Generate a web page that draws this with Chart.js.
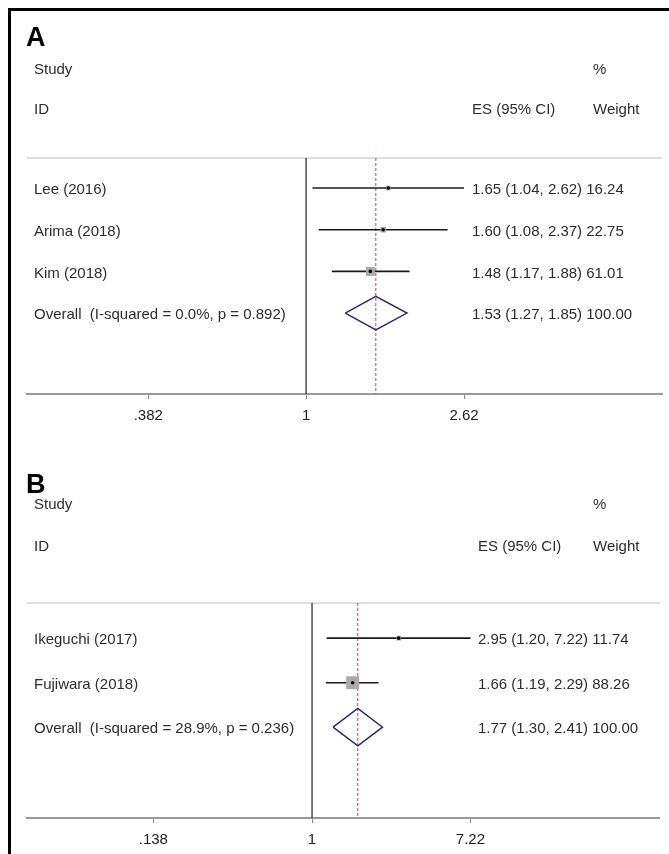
<!DOCTYPE html>
<html>
<head>
<meta charset="utf-8">
<title>Forest plots</title>
<script src="https://cdn.jsdelivr.net/npm/chart.js@4/dist/chart.umd.min.js"></script>
<style>
  body { margin: 0; background: #fff; }
  #page { position: relative; width: 669px; height: 854px; overflow: hidden; }
  #frame { position: absolute; left: 8px; top: 8px; right: -10px; bottom: -10px;
           border-left: 3px solid #000; border-top: 3px solid #000; }
  canvas { position: absolute; left: 0; }
</style>
</head>
<body>
<div id="page">
  <div id="frame"></div>
  <canvas id="plotA" width="669" height="440" style="top:0"></canvas>
  <canvas id="plotB" width="669" height="414" style="top:440px"></canvas>
</div>
<script>
// ---- panel A data ----
const studiesA = ['Lee (2016)', 'Arima (2018)', 'Kim (2018)'];
const esA = [1.65, 1.60, 1.48];
const lowA = [1.04, 1.08, 1.17];
const highA = [2.62, 2.37, 1.88];
const weightA = [16.24, 22.75, 61.01];
const overallA = [1.53, 1.27, 1.85]; // ES, low, high
const overallLabelA = 'Overall  (I-squared = 0.0%, p = 0.892)';
const ticksA = [0.382, 1, 2.62];
const tickLabelsA = ['.382', '1', '2.62'];

// ---- panel B data ----
const studiesB = ['Ikeguchi (2017)', 'Fujiwara (2018)'];
const esB = [2.95, 1.66];
const lowB = [1.20, 1.19];
const highB = [7.22, 2.29];
const weightB = [11.74, 88.26];
const overallB = [1.77, 1.30, 2.41];
const overallLabelB = 'Overall  (I-squared = 28.9%, p = 0.236)';
const ticksB = [0.138, 1, 7.22];
const tickLabelsB = ['.138', '1', '7.22'];

const FONT = '"Liberation Sans", Arial, sans-serif';
const TEXT = '#2e2e2e';
const DY = 2; // nudge text down to sit on the row

function fmt(es, lo, hi) {
  return es.toFixed(2) + ' (' + lo.toFixed(2) + ', ' + hi.toFixed(2) + ')';
}

function makeForest(id, p) {
  const n = p.studies.length;
  const rows = p.studies.map((s, i) => i + 1);
  const overallRow = n + 1;

  const datasets = [];
  // line of no effect
  datasets.push({ data: [{ x: 1, y: p.yMin }, { x: 1, y: p.yMax }], showLine: true,
    borderColor: '#222', borderWidth: 1.2, pointRadius: 0, order: 5 });
  // overall effect, dashed
  datasets.push({ data: [{ x: p.overall[0], y: p.yMin }, { x: p.overall[0], y: p.yMax }], showLine: true,
    borderColor: '#c8445a', borderWidth: 1, borderDash: [3, 2], pointRadius: 0, order: 5 });
  // confidence intervals
  rows.forEach((r, i) => {
    datasets.push({ data: [{ x: p.low[i], y: r }, { x: p.high[i], y: r }], showLine: true,
      borderColor: '#1a1a1a', borderWidth: 1.6, pointRadius: 0, order: 3 });
  });
  // weight boxes
  datasets.push({ data: rows.map((r, i) => ({ x: p.es[i], y: r })),
    pointStyle: 'rect', backgroundColor: '#aaaaaa', borderWidth: 0,
    pointRadius: ctx => p.boxK * Math.sqrt(p.weight[ctx.dataIndex]) / Math.SQRT2, order: 2 });
  // point estimates
  datasets.push({ data: rows.map((r, i) => ({ x: p.es[i], y: r })),
    backgroundColor: '#000', borderWidth: 0, pointRadius: 1.8, order: 1 });
  // overall diamond
  const o = p.overall;
  datasets.push({ data: [
      { x: o[1], y: overallRow }, { x: o[0], y: overallRow - p.dh },
      { x: o[2], y: overallRow }, { x: o[0], y: overallRow + p.dh },
      { x: o[1], y: overallRow }],
    showLine: true, borderColor: '#2a2a80', borderWidth: 1.5, pointRadius: 0, order: 0 });

  const textPlugin = {
    id: 'forestText',
    beforeDatasetsDraw(chart) {
      const { ctx, chartArea } = chart;
      ctx.save();
      ctx.strokeStyle = '#dedede';
      ctx.lineWidth = 2;
      ctx.beginPath();
      ctx.moveTo(chartArea.left, chartArea.top);
      ctx.lineTo(chartArea.right, chartArea.top);
      ctx.stroke();
      ctx.restore();
    },
    afterDraw(chart) {
      const { ctx } = chart;
      const y = chart.scales.y;
      ctx.save();
      ctx.textBaseline = 'middle';
      ctx.fillStyle = '#000';
      ctx.font = 'bold 27px ' + FONT;
      ctx.fillText(p.letter, 26, p.letterY);
      ctx.fillStyle = TEXT;
      ctx.font = '15px ' + FONT;
      ctx.fillText('Study', 34, p.studyY + DY);
      ctx.fillText('ID', 34, p.idY + DY);
      ctx.fillText('%', 593, p.studyY + DY);
      ctx.fillText('ES (95% CI)', p.esX, p.idY + DY);
      ctx.fillText('Weight', 593, p.idY + DY);
      rows.forEach((r, i) => {
        const py = y.getPixelForValue(r) + DY;
        ctx.fillText(p.studies[i], 34, py);
        ctx.fillText(fmt(p.es[i], p.low[i], p.high[i]) + ' ' + p.weight[i].toFixed(2), p.esX, py);
      });
      const oy = y.getPixelForValue(overallRow) + DY;
      ctx.fillText(p.overallLabel, 34, oy);
      ctx.fillText(fmt(o[0], o[1], o[2]) + ' 100.00', p.esX, oy);
      ctx.restore();
    }
  };

  return new Chart(document.getElementById(id), {
    type: 'scatter',
    data: { datasets },
    options: {
      responsive: false,
      animation: false,
      layout: { padding: { left: 27, right: 7, top: p.top, bottom: p.bottom } },
      plugins: { legend: { display: false }, tooltip: { enabled: false } },
      scales: {
        x: {
          type: 'logarithmic', min: p.xMin, max: p.xMax, position: 'bottom',
          border: { color: '#9a9a9a', width: 2 },
          grid: { drawOnChartArea: false, drawTicks: true, tickLength: 5, color: '#8a8a8a' },
          ticks: { color: '#222', font: { family: FONT, size: 15 }, padding: 8,
                   maxRotation: 0, autoSkip: false,
                   callback: (v, i) => p.tickLabels[i] },
          afterBuildTicks: s => { s.ticks = p.ticks.map(v => ({ value: v })); },
          afterFit: s => { s.height = 34; }
        },
        y: { type: 'linear', reverse: true, min: p.yMin, max: p.yMax, display: false }
      }
    },
    plugins: [textPlugin]
  });
}

makeForest('plotA', {
  letter: 'A', letterY: 39, studyY: 68, idY: 108, esX: 472,
  studies: studiesA, es: esA, low: lowA, high: highA, weight: weightA,
  overall: overallA, overallLabel: overallLabelA, ticks: ticksA, tickLabels: tickLabelsA,
  xMin: 0.1824, xMax: 8.76, yMin: 0.28, yMax: 5.94, dh: 0.4, boxK: 1.15,
  top: 158, bottom: 440 - 394 - 34
});

makeForest('plotB', {
  letter: 'B', letterY: 46, studyY: 63, idY: 105, esX: 478,
  studies: studiesB, es: esB, low: lowB, high: highB, weight: weightB,
  overall: overallB, overallLabel: overallLabelB, ticks: ticksB, tickLabels: tickLabelsB,
  xMin: 0.0285, xMax: 76.8, yMin: 0.21, yMax: 5.04, dh: 0.42, boxK: 1.38,
  top: 603 - 440, bottom: 414 - 378 - 34
});
</script>
</body>
</html>
